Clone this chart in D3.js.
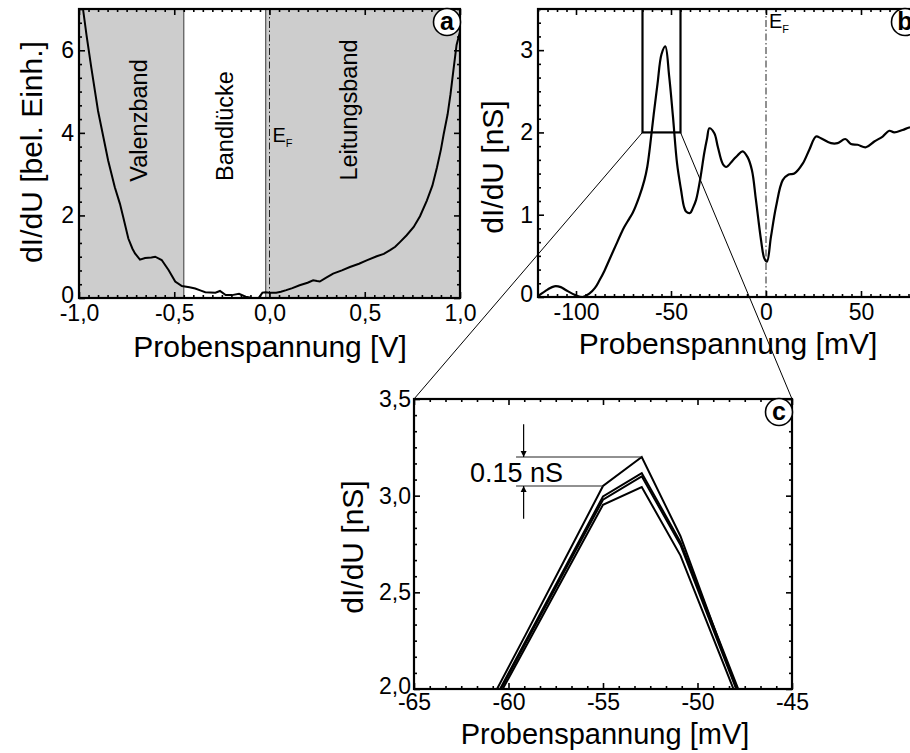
<!DOCTYPE html>
<html><head><meta charset="utf-8">
<script src="https://cdn.jsdelivr.net/npm/d3@7"></script>
<style>
html,body{margin:0;padding:0;background:#fff;}
svg text{font-family:"Liberation Sans",Arial,Helvetica,sans-serif;fill:#000;}
</style></head><body>
<svg id="chart" width="910" height="753"></svg>
<script>
// ---------- panel a: wide-range spectrum ----------
const biasA = [-0.985,-0.979,-0.96,-0.935,-0.90,-0.87,-0.847,-0.812,-0.785,-0.768,-0.741,-0.72,-0.706,-0.68,-0.653,-0.62,-0.60,-0.566,-0.53,-0.495,-0.46,-0.42,-0.39,-0.36,-0.337,-0.284,-0.26,-0.23,-0.197,-0.16,-0.125,-0.09,-0.06,-0.037,-0.02,0.0,0.035,0.06,0.088,0.12,0.158,0.2,0.229,0.25,0.264,0.3,0.334,0.38,0.422,0.47,0.51,0.563,0.6,0.633,0.66,0.686,0.72,0.757,0.79,0.826,0.855,0.879,0.9,0.914,0.935,0.95,0.965,0.982,1.0];
const dIdUA = [7.3,7.0,6.35,5.57,4.53,3.85,3.33,2.68,2.28,1.96,1.44,1.2,1.08,0.93,0.97,0.98,1.0,0.92,0.68,0.40,0.29,0.26,0.23,0.18,0.14,0.13,0.17,0.07,0.07,0.10,0.03,0.0,-0.02,0.13,0.14,0.13,0.13,0.15,0.19,0.24,0.31,0.37,0.43,0.41,0.40,0.50,0.59,0.67,0.75,0.83,0.91,1.01,1.07,1.16,1.24,1.36,1.52,1.72,1.98,2.36,2.72,3.16,3.6,3.96,4.45,4.93,5.5,6.13,6.45];
const gapEdges = [-0.45, -0.02];          // band gap limits [V]
const fermiA = 0;
const ticksAx = [-1, -0.5, 0, 0.5, 1];
const labelsAx = ["-1,0", "-0,5", "0,0", "0,5", "1,0"];
const ticksAy = [0, 2, 4, 6];
const labelsAy = ["0", "2", "4", "6"];
const bandNames = ["Valenzband", "Bandlücke", "Leitungsband"];

// ---------- panel b: low-bias spectrum ----------
const biasB = [-120,-115,-111.4,-108,-105.4,-100,-96.5,-93,-90,-87.7,-85,-82.5,-79,-76.5,-74.6,-72,-70.2,-66.7,-64,-62.5,-61.2,-59.1,-57.1,-55,-53,-51,-49,-46.8,-44.7,-43.2,-42.1,-40,-38.5,-36.8,-34.5,-32.5,-31,-29.8,-27.2,-25.4,-22.8,-21,-17.5,-15,-12.3,-9.7,-7.4,-5.3,-2.6,-0.9,0.5,2.6,5.3,8.8,11.9,14.9,19.3,22.8,26.3,28.9,34.2,37.7,41.7,44.7,48.2,52.6,57,61.4,64.9,67.5,71.9,75.4,80];
const dIdUB = [0.01,0.09,0.13,0.12,0.085,0.02,0.0,0.04,0.11,0.2,0.32,0.45,0.63,0.76,0.85,0.95,1.02,1.22,1.42,1.58,1.80,2.22,2.59,2.95,3.045,2.69,2.2,1.62,1.30,1.10,1.04,1.02,1.08,1.18,1.45,1.75,1.93,2.05,1.99,1.83,1.62,1.58,1.66,1.72,1.77,1.70,1.54,1.18,0.69,0.47,0.43,0.73,1.10,1.42,1.49,1.50,1.62,1.79,1.95,1.93,1.87,1.87,1.92,1.86,1.85,1.82,1.89,1.95,2.02,2.0,2.03,2.06,2.08];
const fermiB = 0;
const zoomBox = {u: [-65, -45], g: [2.0, 3.5]};
const ticksBx = [-100, -50, 0, 50];
const labelsBx = ["-100", "-50", "0", "50"];
const ticksBy = [0, 1, 2, 3];
const labelsBy = ["0", "1", "2", "3"];

// ---------- panel c: repeated peak spectra ----------
const biasC = [-61.2, -59.1, -57.05, -55, -52.95, -50.9, -48.85, -46.8];
const peakRun1 = [1.89, 2.28, 2.665, 3.05, 3.20, 2.79, 2.245, 1.70];
const peakRun2 = [1.862, 2.247, 2.621, 2.996, 3.117, 2.76, 2.25, 1.74];
const peakRun3 = [1.855, 2.236, 2.608, 2.979, 3.10, 2.745, 2.227, 1.71];
const peakRun4 = [1.84, 2.216, 2.585, 2.953, 3.045, 2.69, 2.186, 1.68];
const peakSpread = 0.15;                  // nS, marked between the arrows
const ticksCx = [-65, -60, -55, -50, -45];
const labelsCx = ["-65", "-60", "-55", "-50", "-45"];
const ticksCy = [2.0, 2.5, 3.0, 3.5];
const labelsCy = ["2,0", "2,5", "3,0", "3,5"];

const svg = d3.select("#chart");

// scales
const xA = d3.scaleLinear([-1, 1], [79, 460]);
const yA = d3.scaleLinear([0, 7], [298, 9]);
const xB = d3.scaleLinear([-120, 80], [538, 918]);
const yB = d3.scaleLinear([0, 3.5], [297, 9]);
const xC = d3.scaleLinear([-65, -45], [414, 792]);
const yC = d3.scaleLinear([2.0, 3.5], [689, 399]);

function minorTicks(scale, step, majors) {
  const [a, b] = scale.domain();
  const out = [];
  const n = Math.round((b - a) / step);
  for (let i = 0; i <= n; i++) {
    const v = a + i * step;
    if (!majors.some(m => Math.abs(m - v) < step * 0.01)) out.push(v);
  }
  return out;
}

function addClip(id, x, y) {
  svg.append("clipPath").attr("id", id).append("rect")
    .attr("x", x.range()[0]).attr("y", y.range()[1])
    .attr("width", x.range()[1] - x.range()[0])
    .attr("height", y.range()[0] - y.range()[1]);
}

function frame(x, y, c) {
  const g = svg.append("g");
  const xb = x.range(), yb = y.range();
  const styleAxis = sel => {
    sel.select(".domain").remove();
    sel.selectAll(".tick line").attr("stroke", "#000").attr("stroke-width", 1.6);
    sel.selectAll(".tick text").attr("font-size", c.fs).attr("fill", "#000")
      .attr("font-family", '"Liberation Sans",Arial,sans-serif');
  };
  const fmt = (ticks, labels) => d => labels[ticks.findIndex(t => Math.abs(t - d) < 1e-9)];
  // major, labelled
  g.append("g").attr("transform", `translate(0,${yb[0]})`)
    .call(d3.axisBottom(x).tickValues(c.xt).tickFormat(fmt(c.xt, c.xl)).tickSizeInner(-6).tickSizeOuter(0).tickPadding(c.xpad))
    .call(styleAxis);
  const yAxisG = g.append("g").attr("transform", `translate(${xb[0]},0)`)
    .call(d3.axisLeft(y).tickValues(c.yt).tickFormat(fmt(c.yt, c.yl)).tickSizeInner(-6).tickSizeOuter(0).tickPadding(c.ypad))
    .call(styleAxis);
  // lift the bottom y label a little so it clears the first x label
  yAxisG.selectAll(".tick text").filter(d => d === c.yt[0]).attr("dy", "0.2em");
  g.append("g").attr("transform", `translate(0,${yb[1]})`)
    .call(d3.axisTop(x).tickValues(c.xt).tickFormat("").tickSizeInner(-6).tickSizeOuter(0)).call(styleAxis);
  g.append("g").attr("transform", `translate(${xb[1]},0)`)
    .call(d3.axisRight(y).tickValues(c.yt).tickFormat("").tickSizeInner(-6).tickSizeOuter(0)).call(styleAxis);
  // minor
  const mx = minorTicks(x, c.xm, c.xt), my = minorTicks(y, c.ym, c.yt);
  g.append("g").attr("transform", `translate(0,${yb[0]})`)
    .call(d3.axisBottom(x).tickValues(mx).tickFormat("").tickSizeInner(-3).tickSizeOuter(0)).call(styleAxis);
  g.append("g").attr("transform", `translate(0,${yb[1]})`)
    .call(d3.axisTop(x).tickValues(mx).tickFormat("").tickSizeInner(-3).tickSizeOuter(0)).call(styleAxis);
  g.append("g").attr("transform", `translate(${xb[0]},0)`)
    .call(d3.axisLeft(y).tickValues(my).tickFormat("").tickSizeInner(-3).tickSizeOuter(0)).call(styleAxis);
  g.append("g").attr("transform", `translate(${xb[1]},0)`)
    .call(d3.axisRight(y).tickValues(my).tickFormat("").tickSizeInner(-3).tickSizeOuter(0)).call(styleAxis);
  g.append("rect").attr("x", xb[0]).attr("y", yb[1])
    .attr("width", xb[1] - xb[0]).attr("height", yb[0] - yb[1])
    .attr("fill", "none").attr("stroke", "#000").attr("stroke-width", 2.2);
  return g;
}

function panelBadge(cx, cy, letter) {
  svg.append("circle").attr("cx", cx).attr("cy", cy).attr("r", 13.5)
    .attr("fill", "#fff").attr("stroke", "#000").attr("stroke-width", 1.6);
  svg.append("text").attr("x", cx).attr("y", cy + 8).attr("text-anchor", "middle")
    .attr("font-size", 25).attr("font-weight", "bold").text(letter);
}

function fermiLabel(x, y) {
  const t = svg.append("text").attr("x", x).attr("y", y).attr("font-size", 20);
  t.append("tspan").text("E");
  t.append("tspan").attr("font-size", 11).attr("dy", 5).text("F");
}

const dashDot = "7,2.5,1.5,2.5";

// ================= panel a =================
addClip("clipA", xA, yA);
const gA = svg.append("g").attr("clip-path", "url(#clipA)");
gA.append("rect").attr("x", xA(-1)).attr("y", yA(7))
  .attr("width", xA(gapEdges[0]) - xA(-1)).attr("height", yA(0) - yA(7)).attr("fill", "#cdcdcd");
gA.append("rect").attr("x", xA(gapEdges[1])).attr("y", yA(7))
  .attr("width", xA(1) - xA(gapEdges[1])).attr("height", yA(0) - yA(7)).attr("fill", "#cdcdcd");
gapEdges.forEach(e => gA.append("line").attr("x1", xA(e)).attr("x2", xA(e))
  .attr("y1", yA(0)).attr("y2", yA(7)).attr("stroke", "#555").attr("stroke-width", 1.2));
gA.append("line").attr("x1", xA(fermiA)).attr("x2", xA(fermiA))
  .attr("y1", yA(0)).attr("y2", yA(7)).attr("stroke", "#222").attr("stroke-width", 1)
  .attr("stroke-dasharray", dashDot);
gA.append("path").datum(d3.zip(biasA, dIdUA))
  .attr("d", d3.line().x(d => xA(d[0])).y(d => yA(d[1])))
  .attr("fill", "none").attr("stroke", "#000").attr("stroke-width", 2);

// band labels
[[bandNames[0], 146.5, 120.5], [bandNames[1], 233, 126], [bandNames[2], 357, 110]].forEach(([t, x, y]) =>
  svg.append("text").attr("transform", `translate(${x},${y}) rotate(-90)`)
    .attr("text-anchor", "middle").attr("font-size", 23.5).text(t));
fermiLabel(xA(fermiA) + 3, 142);

frame(xA, yA, {xt: ticksAx, xl: labelsAx, yt: ticksAy, yl: labelsAy, xm: 0.05, ym: 1 / 3, fs: 23, xpad: 7, ypad: 5});

svg.append("text").attr("x", 270).attr("y", 357).attr("text-anchor", "middle")
  .attr("font-size", 30).text("Probenspannung [V]");
svg.append("text").attr("transform", "translate(42,152) rotate(-90)").attr("text-anchor", "middle")
  .attr("font-size", 30).text("dI/dU [bel. Einh.]");
panelBadge(447, 22, "a");

// ================= panel b =================
addClip("clipB", xB, yB);
const gB = svg.append("g").attr("clip-path", "url(#clipB)");
gB.append("line").attr("x1", xB(fermiB)).attr("x2", xB(fermiB))
  .attr("y1", yB(0)).attr("y2", yB(3.5)).attr("stroke", "#222").attr("stroke-width", 1)
  .attr("stroke-dasharray", dashDot);
gB.append("path").datum(d3.zip(biasB, dIdUB))
  .attr("d", d3.line().x(d => xB(d[0])).y(d => yB(d[1])).curve(d3.curveCatmullRom.alpha(0.5)))
  .attr("fill", "none").attr("stroke", "#000").attr("stroke-width", 2.2);
gB.append("rect").attr("x", xB(zoomBox.u[0])).attr("y", yB(zoomBox.g[1]))
  .attr("width", xB(zoomBox.u[1]) - xB(zoomBox.u[0]))
  .attr("height", yB(zoomBox.g[0]) - yB(zoomBox.g[1]))
  .attr("fill", "none").attr("stroke", "#000").attr("stroke-width", 2.2);
fermiLabel(xB(fermiB) + 3, 28);

frame(xB, yB, {xt: ticksBx, xl: labelsBx, yt: ticksBy, yl: labelsBy, xm: 5, ym: 1 / 6, fs: 23, xpad: 7, ypad: 5});

svg.append("text").attr("x", 728).attr("y", 354).attr("text-anchor", "middle")
  .attr("font-size", 30).text("Probenspannung [mV]");
svg.append("text").attr("transform", "translate(503,167) rotate(-90)").attr("text-anchor", "middle")
  .attr("font-size", 30).text("dI/dU [nS]");
panelBadge(905, 22, "b");

// connectors from the zoom box to panel c
[[zoomBox.u[0], -65], [zoomBox.u[1], -45]].forEach(([ub, uc]) =>
  svg.append("line").attr("x1", xB(ub)).attr("y1", yB(zoomBox.g[0]))
    .attr("x2", xC(uc)).attr("y2", yC(3.5)).attr("stroke", "#000").attr("stroke-width", 1));

// ================= panel c =================
addClip("clipC", xC, yC);
const gC = svg.append("g").attr("clip-path", "url(#clipC)");
const lineC = d3.line().x(d => xC(d[0])).y(d => yC(d[1]));
[peakRun1, peakRun2, peakRun3, peakRun4].forEach(run =>
  gC.append("path").datum(d3.zip(biasC, run)).attr("d", lineC)
    .attr("fill", "none").attr("stroke", "#000").attr("stroke-width", 2));

// spread annotation
const topPeak = d3.max(peakRun1);
const topPeakU = biasC[peakRun1.indexOf(topPeak)];
const lowLevel = topPeak - peakSpread;
const arrowU = -59.2, refStart = -59.6;
svg.append("line").attr("x1", xC(refStart)).attr("x2", xC(topPeakU))
  .attr("y1", yC(topPeak)).attr("y2", yC(topPeak)).attr("stroke", "#222").attr("stroke-width", 1);
svg.append("line").attr("x1", xC(refStart)).attr("x2", xC(-55))
  .attr("y1", yC(lowLevel)).attr("y2", yC(lowLevel)).attr("stroke", "#222").attr("stroke-width", 1);
svg.append("defs").append("marker").attr("id", "arrowHead")
  .attr("viewBox", "0 0 10 10").attr("refX", 10).attr("refY", 5)
  .attr("markerWidth", 6).attr("markerHeight", 9).attr("markerUnits", "userSpaceOnUse")
  .attr("orient", "auto")
  .append("path").attr("d", "M0,0 L10,5 L0,10 Z").attr("fill", "#000");
svg.append("line").attr("x1", xC(arrowU)).attr("x2", xC(arrowU))
  .attr("y1", yC(topPeak + 0.17)).attr("y2", yC(topPeak))
  .attr("stroke", "#000").attr("stroke-width", 1.2).attr("marker-end", "url(#arrowHead)");
svg.append("line").attr("x1", xC(arrowU)).attr("x2", xC(arrowU))
  .attr("y1", yC(lowLevel - 0.17)).attr("y2", yC(lowLevel))
  .attr("stroke", "#000").attr("stroke-width", 1.2).attr("marker-end", "url(#arrowHead)");
svg.append("text").attr("x", 470).attr("y", 482).attr("font-size", 27)
  .text(`${peakSpread.toFixed(2)} nS`);

frame(xC, yC, {xt: ticksCx, xl: labelsCx, yt: ticksCy, yl: labelsCy, xm: 5 / 6, ym: 0.5 / 6, fs: 23, xpad: 5, ypad: 3});

svg.append("text").attr("x", 605).attr("y", 744).attr("text-anchor", "middle")
  .attr("font-size", 29).text("Probenspannung [mV]");
svg.append("text").attr("transform", "translate(363,547) rotate(-90)").attr("text-anchor", "middle")
  .attr("font-size", 30).text("dI/dU [nS]");
panelBadge(779, 412, "c");
</script>
</body></html>
